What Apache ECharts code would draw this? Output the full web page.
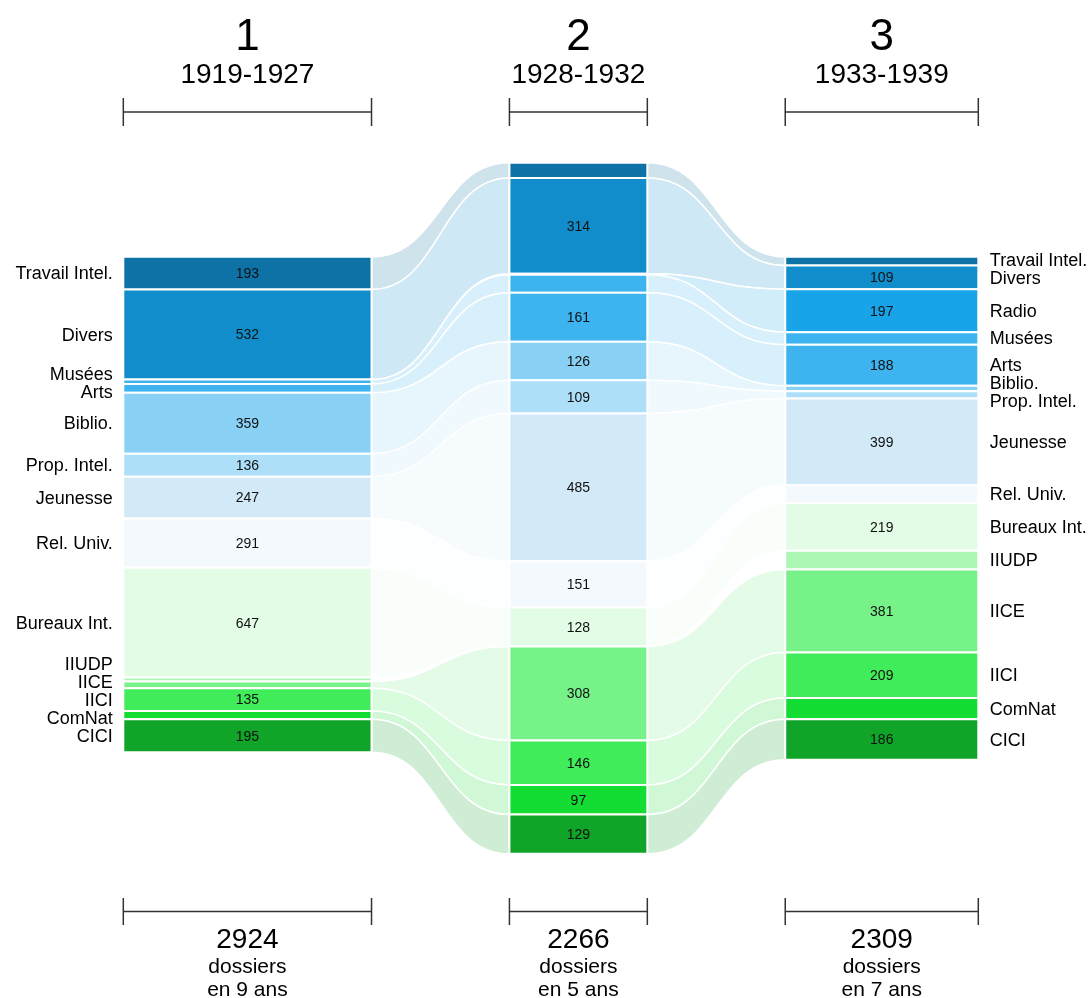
<!DOCTYPE html>
<html><head><meta charset="utf-8">
<script src="https://cdn.jsdelivr.net/npm/echarts@6/dist/echarts.min.js"></script>
<style>html,body{margin:0;padding:0;background:#fff}#chart{width:1090px;height:998px}</style>
</head><body><div id="chart"></div>
<script>
// ---------- data ----------
const categories = ['Travail Intel.','Divers','Radio','Musées','Arts','Biblio.','Prop. Intel.','Jeunesse','Rel. Univ.','Bureaux Int.','IIUDP','IICE','IICI','ComNat','CICI'];
const categoryColors = ['#0e72a6','#118dcb','#19a3e8','#3db4ef','#3db4ef','#88d1f5','#ade0f8','#d2e9f8','#f4f9fe','#e3fce5','#adf7b4','#77f289','#40ec59','#13dc32','#10a428'];
const periodNumbers = ['1','2','3'];
const periodRanges = ['1919-1927','1928-1932','1933-1939'];
const periodYears = [9,5,7];
const dossiers1919 = [193,532,0,26,52,359,136,247,291,647,23,40,135,48,195];
const dossiers1928 = [50,314,3,59,161,126,109,485,151,128,0,308,146,97,129];
const dossiers1933 = [40,109,197,58,188,25,33,399,81,219,86,381,209,98,186];
const periods = [dossiers1919, dossiers1928, dossiers1933];

// ---------- layout helpers ----------
const GAP_YEARS = 5;
const colCenters = [2.5, 0, 0];
const FONT = '"Liberation Sans", Arial, Helvetica, sans-serif';

const colX = []; let xc = 0;
periodYears.forEach(n => { colX.push([xc, xc + n]); xc += n + GAP_YEARS; });
const xMax = xc - GAP_YEARS;

const nodes = []; const nodeData = [];
periods.forEach((vals, c) => {
  const n = periodYears[c];
  const total = vals.reduce((a, b) => a + b, 0);
  let y = colCenters[c] + total / n / 2;
  nodes[c] = [];
  vals.forEach((v, k) => {
    if (v > 0) {
      const top = y, bot = y - v / n;
      nodes[c][k] = { top, bot };
      nodeData.push([colX[c][0], colX[c][1], top, bot, v, k, c]);
      y = bot;
    }
  });
});
const flowData = [];
for (let c = 0; c < periods.length - 1; c++) {
  categories.forEach((_, k) => {
    const a = nodes[c][k], b = nodes[c + 1][k];
    if (a && b) flowData.push([colX[c][1], colX[c + 1][0], a.top, a.bot, b.top, b.bot, k]);
  });
}
const headerData = periods.map((_, c) => [(colX[c][0] + colX[c][1]) / 2, 0, c]);
const labelData = [[colX[0][0], 0, 0, -1], [colX[2][1], 0, 2, 1]];

function rgba(hex, a) {
  const r = parseInt(hex.slice(1, 3), 16), g = parseInt(hex.slice(3, 5), 16), b = parseInt(hex.slice(5, 7), 16);
  return `rgba(${r},${g},${b},${a})`;
}

function renderFlow(params, api) {
  const x0 = api.value(0), x1 = api.value(1);
  const A0 = api.coord([x0, api.value(2)]), A1 = api.coord([x0, api.value(3)]);
  const B0 = api.coord([x1, api.value(4)]), B1 = api.coord([x1, api.value(5)]);
  const xm = (A0[0] + B0[0]) / 2;
  const d = `M${A0[0]},${A0[1]} C${xm},${A0[1]} ${xm},${B0[1]} ${B0[0]},${B0[1]} L${B1[0]},${B1[1]} C${xm},${B1[1]} ${xm},${A1[1]} ${A1[0]},${A1[1]} Z`;
  return { type: 'path', shape: { pathData: d }, style: { fill: rgba(categoryColors[api.value(6)], 0.2), stroke: '#fff', lineWidth: 1.5 } };
}

function renderNode(params, api) {
  const tl = api.coord([api.value(0), api.value(2)]);
  const br = api.coord([api.value(1), api.value(3)]);
  const k = api.value(5);
  const h = br[1] - tl[1];
  const children = [{ type: 'rect', shape: { x: tl[0], y: tl[1], width: br[0] - tl[0], height: h },
    style: { fill: categoryColors[k], stroke: '#fff', lineWidth: 2 } }];
  if (h >= 22) {
    children.push({ type: 'text', style: { text: String(api.value(4)), x: (tl[0] + br[0]) / 2, y: tl[1] + h / 2 + 1,
      align: 'center', verticalAlign: 'middle', fill: '#111', font: `14px ${FONT}` } });
  }
  return { type: 'group', children };
}

function renderLabels(params, api) {
  const c = api.value(2), side = api.value(3);
  const edge = api.coord([api.value(0), 0])[0];
  const items = [];
  categories.forEach((name, k) => {
    const nd = nodes[c][k];
    if (!nd) return;
    const p0 = api.coord([0, nd.top])[1], p1 = api.coord([0, nd.bot])[1];
    items.push({ name, y: (p0 + p1) / 2, w: Math.max(1, p1 - p0) });
  });
  const S = 18;
  for (let it = 0; it < 500; it++) {
    let moved = false;
    for (let i = 0; i < items.length - 1; i++) {
      const a = items[i], b = items[i + 1];
      const d = b.y - a.y;
      if (d < S - 0.01) {
        const o = S - d, tw = a.w + b.w;
        a.y -= o * b.w / tw; b.y += o * a.w / tw; moved = true;
      }
    }
    if (!moved) break;
  }
  return { type: 'group', children: items.map(it => ({ type: 'text', style: {
    text: it.name, x: side < 0 ? edge - 10.5 : edge + 11.5, y: it.y + 1,
    align: side < 0 ? 'right' : 'left', verticalAlign: 'middle', fill: '#000', font: `18px ${FONT}` } })) };
}

function renderHeader(params, api) {
  const c = api.value(2);
  const cx = api.coord([api.value(0), 0])[0];
  const x0 = api.coord([colX[c][0], 0])[0], x1 = api.coord([colX[c][1], 0])[0];
  const total = periods[c].reduce((a, b) => a + b, 0);
  const txt = (text, y, size) => ({ type: 'text', style: { text, x: cx, y, align: 'center', verticalAlign: 'middle', fill: '#000', font: `${size}px ${FONT}` } });
  const ln = (xa, ya, xb, yb) => ({ type: 'line', shape: { x1: xa, y1: ya, x2: xb, y2: yb }, style: { stroke: '#333', lineWidth: 1.5 } });
  return { type: 'group', children: [
    txt(periodNumbers[c], 38, 44),
    txt(periodRanges[c], 75, 28),
    ln(x0, 112, x1, 112), ln(x0, 98, x0, 126), ln(x1, 98, x1, 126),
    ln(x0, 911.5, x1, 911.5), ln(x0, 898, x0, 925), ln(x1, 898, x1, 925),
    txt(String(total), 940, 28),
    txt('dossiers', 967, 21),
    txt(`en ${periodYears[c]} ans`, 990, 21)
  ] };
}

const chart = echarts.init(document.getElementById('chart'), null, { renderer: 'canvas' });
chart.setOption({
  animation: false,
  backgroundColor: '#fff',
  grid: { left: 123.3, right: 111.7, top: 142.3, height: 732 },
  xAxis: { type: 'value', min: 0, max: xMax, show: false },
  yAxis: { type: 'value', min: -240, max: 240, show: false },
  series: [
    { type: 'custom', name: 'flows', clip: false, z: 1, data: flowData, encode: { x: [0, 1], y: [2, 3, 4, 5] }, renderItem: renderFlow, silent: true },
    { type: 'custom', name: 'nodes', clip: false, z: 2, data: nodeData, encode: { x: [0, 1], y: [2, 3] }, renderItem: renderNode, silent: true },
    { type: 'custom', name: 'labels', clip: false, z: 3, data: labelData, encode: { x: 0, y: 1 }, renderItem: renderLabels, silent: true },
    { type: 'custom', name: 'headers', clip: false, z: 3, data: headerData, encode: { x: 0, y: 1 }, renderItem: renderHeader, silent: true }
  ]
});
</script></body></html>
